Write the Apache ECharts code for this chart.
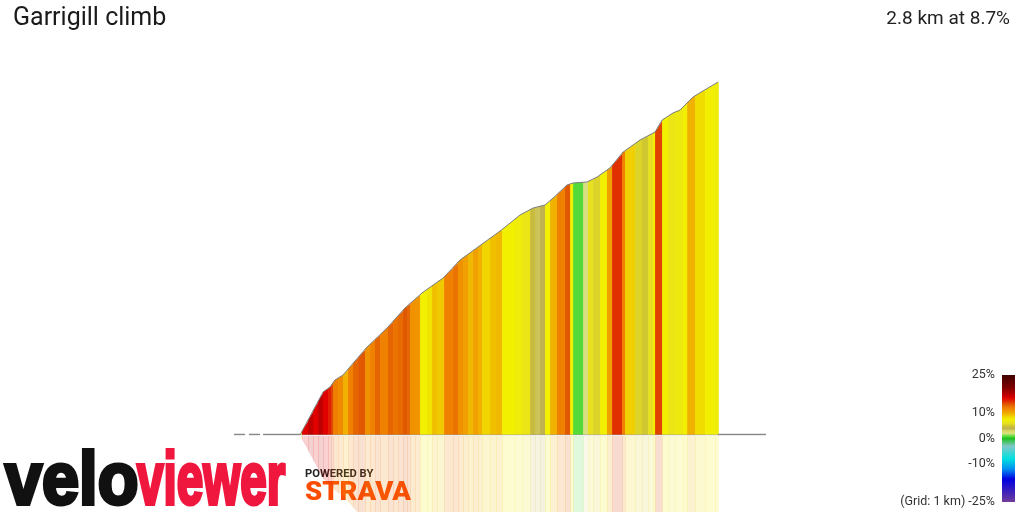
<!DOCTYPE html>
<html><head><meta charset="utf-8">
<script src="https://cdn.jsdelivr.net/npm/echarts@6/dist/echarts.min.js"></script>
<style>html,body{margin:0;padding:0;background:#fff}#c{width:1024px;height:512px}</style>
</head><body><div id="c"></div>
<script>
// ---- data ----
const title = 'Garrigill climb';
const summary = '2.8 km at 8.7%';
const baseElev = 340;
// elevation profile (km, m)
const profileDist = [0,0.154,0.201,0.234,0.288,0.449,0.583,0.703,0.817,0.958,1.072,1.340,1.474,1.561,1.641,1.695,1.788,1.829,1.922,1.989,2.076,2.164,2.277,2.378,2.425,2.498,2.545,2.632,2.699,2.800];
const profileElev = [340,369.7,373.2,378.0,381.5,400.8,414.0,427.8,438.2,448.5,461.0,481.0,492.1,496.9,499.0,503.8,512.8,514.2,514.9,518.3,524.6,535.6,543.9,549.4,557.7,562.6,564.6,573.6,577.8,584.0];
// gradient stripes: edges (km) and gradient (%) of each stripe
const stripeEdges = [0,0.013,0.054,0.087,0.121,0.154,0.188,0.208,0.221,0.255,0.288,0.322,0.355,0.389,0.435,0.469,0.502,0.536,0.589,0.623,0.656,0.690,0.717,0.737,0.770,0.804,0.851,0.884,0.918,0.965,1.025,1.058,1.092,1.125,1.159,1.192,1.219,1.273,1.313,1.353,1.440,1.487,1.541,1.574,1.608,1.641,1.675,1.721,1.775,1.809,1.829,1.896,1.929,1.963,2.010,2.056,2.090,2.157,2.177,2.244,2.291,2.331,2.365,2.378,2.425,2.465,2.512,2.566,2.593,2.646,2.713,2.780,2.800];
const stripeGrades = [7,16,17,16,17,16,15,14,12,11.5,9.8,12,13,13.5,11.2,12,13,12,13,12.5,12.8,13.5,13,11.2,11,7.5,8,9.3,9,12,12.5,11.2,10.5,9.5,10.5,9.8,8.6,9.3,9.5,7.5,7,6.5,4.5,3.5,4,7.5,9.8,12,13.5,7.5,0.8,2,6,5.5,7.5,10.5,14.5,12,8.8,5.5,5,6,7.5,14,7.5,6.5,6.8,7.5,9.8,8.3,7.5,7];
// flat road before / after the climb (km), null = gap
const leadDist = [-0.442,-0.368,null,-0.342,-0.268,null,-0.248,0];
const trailDist = [2.8,3.121];
// colour scale (gradient % -> colour)
const gradeStops = [-25,-16,-12,-8,-3,0,1,2,3,4,5,6,7.5,8.8,9.5,10.5,12,13.5,14.5,16,17,20,25];
const colorStops = ['#703c9c','#0000e0','#0090f0','#00e0e0','#80c8c8','#20c020','#60e040','#d8e080','#d8d860','#c0b050','#d0c830','#e8e020','#f2f000','#f0d000','#f0b800','#f0a000','#f08000','#e05800','#e03000','#e00000','#c00000','#800000','#400000'];
const legendTicks = [25,10,0,-10,-25];
const legendLabels = ['25%','10%','0%','-10%','(Grid: 1 km) -25%'];

// ---- helpers ----
function hex2rgb(h){return [parseInt(h.substr(1,2),16),parseInt(h.substr(3,2),16),parseInt(h.substr(5,2),16)];}
function colorFor(g){
  if (g<=gradeStops[0]) return colorStops[0];
  for (let i=1;i<gradeStops.length;i++){
    if (g<=gradeStops[i]){
      const t=(g-gradeStops[i-1])/(gradeStops[i]-gradeStops[i-1]);
      const a=hex2rgb(colorStops[i-1]), b=hex2rgb(colorStops[i]);
      return 'rgb('+a.map((v,k)=>Math.round(v+(b[k]-v)*t)).join(',')+')';
    }
  }
  return colorStops[colorStops.length-1];
}
function elevAt(d){
  for (let i=1;i<profileDist.length;i++){
    if (d<=profileDist[i]){
      const t=(d-profileDist[i-1])/(profileDist[i]-profileDist[i-1]);
      return profileElev[i-1]+(profileElev[i]-profileElev[i-1])*t;
    }
  }
  return profileElev[profileElev.length-1];
}
const stripeData = stripeGrades.map((g,i)=>[stripeEdges[i],stripeEdges[i+1],g]);

function renderStripe(params, api){
  const d0=api.value(0), d1=api.value(1), g=api.value(2);
  const col=colorFor(g);
  const baseY=api.coord([0,baseElev])[1];
  const pts=[api.coord([d0,baseElev]), api.coord([d0,elevAt(d0)])];
  for (let i=0;i<profileDist.length;i++){
    if (profileDist[i]>d0 && profileDist[i]<d1) pts.push(api.coord([profileDist[i],profileElev[i]]));
  }
  const pe=api.coord([d1,elevAt(d1)]);
  const pb=api.coord([d1,baseElev]);
  pts.push([pe[0]+0.7,pe[1]]); pts.push([pb[0]+0.7,pb[1]]);
  const refl=pts.map(p=>[p[0],2*baseY-p[1]+1]);
  return {type:'group',children:[
    {type:'polygon',shape:{points:pts},style:{fill:col}},
    {type:'polygon',shape:{points:refl},style:{fill:col,opacity:0.18}}
  ]};
}

// legend gradient
const legTop=375, legH=127;
const legGrad = gradeStops.map((g,i)=>({offset:(25-g)/50,color:colorStops[i]})).reverse();

const graphics = [
  {type:'text',x:13,y:19,style:{text:title,font:'25px Roboto',fill:'#1a1a1a',verticalAlign:'middle'}},
  {type:'text',x:1010,y:19,style:{text:summary,font:'19px Roboto',fill:'#222',align:'right',verticalAlign:'middle'}},
  {type:'rect',shape:{x:1002,y:legTop,width:13,height:legH},style:{fill:new echarts.graphic.LinearGradient(0,0,0,1,legGrad)}},
  // veloviewer logo
  {type:'text',x:5,y:483,scaleX:0.98,scaleY:1.1,style:{text:'velo',font:'bold 68px "Liberation Sans"',fill:'#111',stroke:'#111',lineWidth:3.5,verticalAlign:'middle'}},
  {type:'text',x:137,y:483,scaleX:0.7,scaleY:1.1,style:{text:'viewer',font:'bold 68px "Liberation Sans"',fill:'#f0173f',stroke:'#f0173f',lineWidth:3.5,verticalAlign:'middle'}},
  {type:'text',x:305,y:474,scaleX:1.12,style:{text:'POWERED BY',font:'bold 10px Roboto',fill:'#222',verticalAlign:'middle'}},
  {type:'text',x:305,y:494,scaleX:1.1,style:{text:'STRAVA',font:'900 25px Roboto',fill:'#fc4c02',verticalAlign:'middle'}}
];
legendTicks.forEach((g,i)=>{
  graphics.push({type:'text',x:995,y:legTop+(25-g)*legH/50,style:{text:legendLabels[i],font:'12.5px Roboto',fill:'#333',align:'right',verticalAlign:'middle'}});
});

const toLine = arr => arr.map(d => d===null ? '-' : [d, baseElev+0.4]);

const chart = echarts.init(document.getElementById('c'),null,{renderer:'canvas'});
chart.setOption({
  animation:false,
  backgroundColor:'#fff',
  grid:{left:225.4,width:552.4,top:73.33,height:361.67},
  xAxis:{type:'value',min:-0.5,max:3.2,show:false},
  yAxis:{type:'value',min:340,max:590,show:false},
  graphic:graphics,
  series:[
    {type:'custom',renderItem:renderStripe,data:stripeData,clip:false,silent:true,z:2},
    {type:'line',data:profileDist.map((d,i)=>[d,profileElev[i]]),symbol:'none',lineStyle:{color:'#7a7a7a',width:1},silent:true,z:3},
    {type:'line',data:toLine(leadDist),symbol:'none',connectNulls:false,lineStyle:{color:'#888',width:1.5},silent:true,z:3},
    {type:'line',data:toLine(trailDist),symbol:'none',lineStyle:{color:'#888',width:1.5},silent:true,z:3},
    {type:'line',data:[[0,baseElev],[2.8,baseElev]],symbol:'none',lineStyle:{color:'#999',width:1,opacity:0.7},silent:true,z:3}
  ]
});
</script></body></html>
